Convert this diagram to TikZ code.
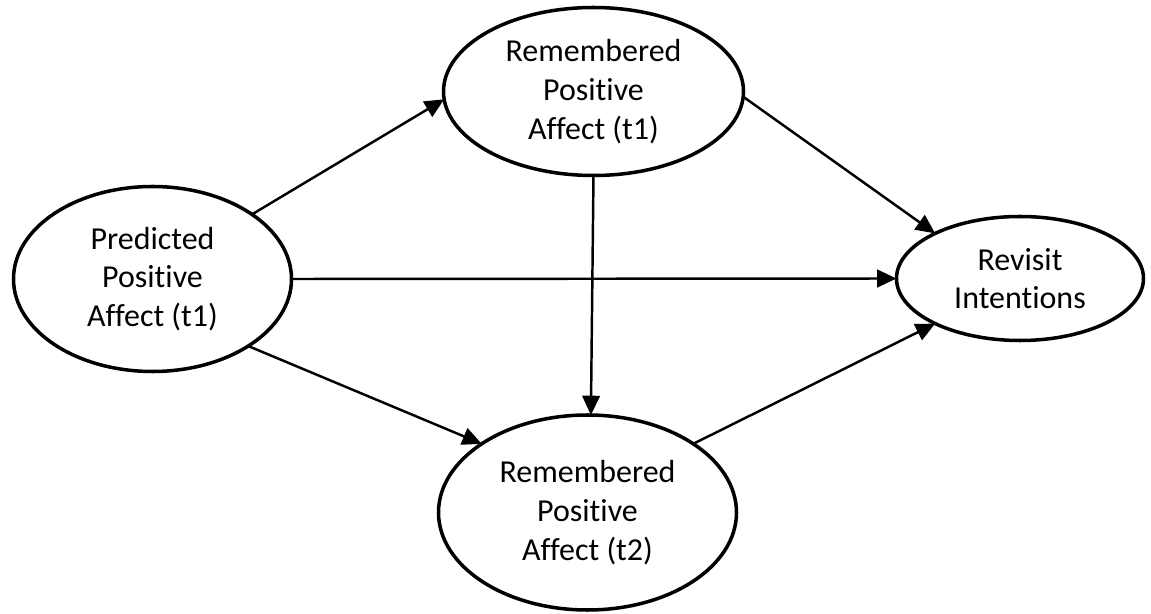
\documentclass[tikz,border=0pt]{standalone}
\usepackage{fontspec}
\setmainfont{Carlito}[RawFeature={-liga;-clig;-calt;-dlig}]
\usetikzlibrary{shapes.geometric,arrows.meta}

\begin{document}
\begin{tikzpicture}[
  latent/.style={draw,ellipse,line width=2pt,inner sep=0pt,outer sep=0pt,align=center,
    font=\fontsize{18.2}{22}\selectfont},
  effect/.style={line width=1.4pt,-{Triangle[length=11pt,width=10pt]}}]
\useasboundingbox (0,0) rectangle (23.02,12.26);

%Draw the four constructs
\node[latent,minimum width=5.56cm,minimum height=3.70cm] (pred) at (3.05,6.68) {Predicted\\Positive\\Affect (t1)};
\node[latent,minimum width=6.00cm,minimum height=3.36cm] (rem1) at (11.87,10.43) {Remembered\\Positive\\Affect (t1)};
\node[latent,minimum width=5.96cm,minimum height=3.90cm] (rem2) at (11.75,2.01) {Remembered\\Positive\\Affect (t2)};
\node[latent,minimum width=4.94cm,minimum height=2.48cm] (rev) at (20.40,6.69) {Revisit\\Intentions};

%Draw paths from predicted affect
\draw[effect] (pred.33) -- (rem1.183);
\draw[effect] (pred.0) -- (rev.180);
\draw[effect] (pred.-35) -- (rem2.147);

%Draw paths from remembered affect
\draw[effect] (rem1.-2) -- (rev.152);
\draw[effect] (rem1.south) -- (rem2.88);
\draw[effect] (rem2.33) -- (rev.208);
\end{tikzpicture}
\end{document}
